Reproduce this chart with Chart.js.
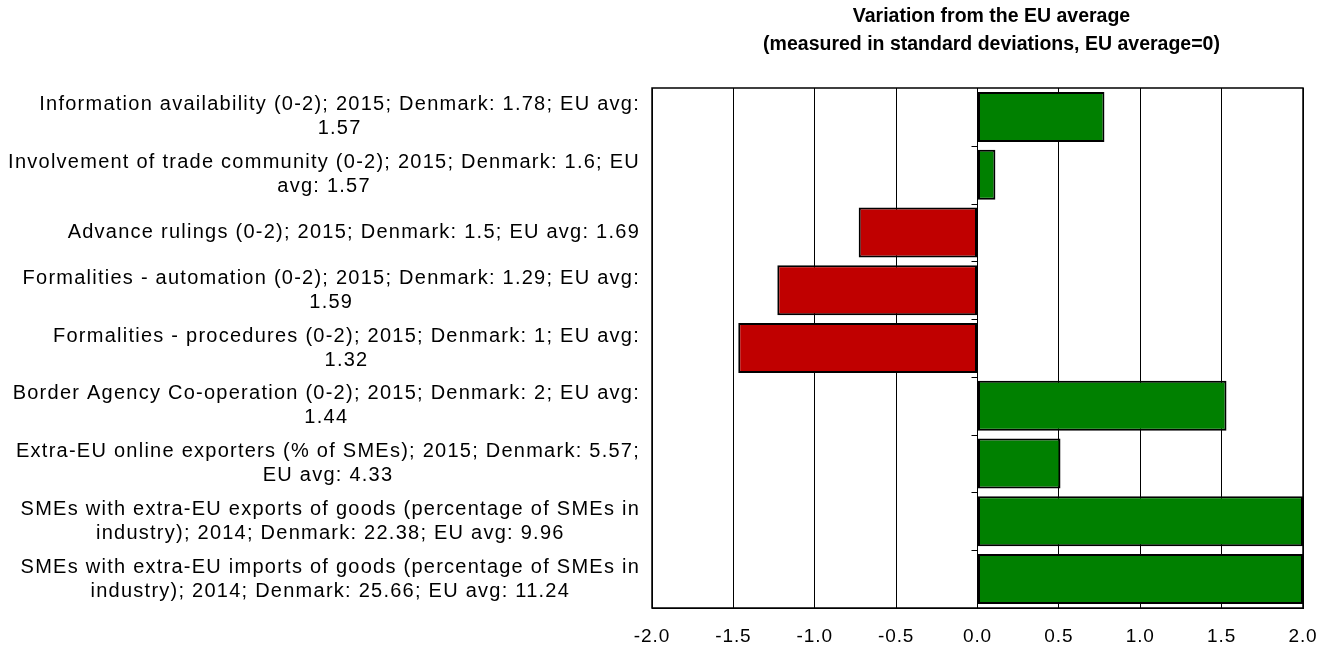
<!DOCTYPE html>
<html>
<head>
<meta charset="utf-8">
<script src="https://cdn.jsdelivr.net/npm/chart.js@4.4.1/dist/chart.umd.min.js"></script>
<style>
  html, body { margin: 0; padding: 0; background: #fff; }
  #wrap { width: 1330px; height: 647px; position: relative; }
</style>
</head>
<body>
<div id="wrap"><canvas id="c" width="1330" height="647"></canvas></div>
<script>
const titleLines = ["Variation from the EU average", "(measured in standard deviations, EU average=0)"];
const categories = [
  ["Information availability (0-2); 2015; Denmark: 1.78; EU avg:", "1.57"],
  ["Involvement of trade community (0-2); 2015; Denmark: 1.6; EU", "avg: 1.57"],
  ["Advance rulings (0-2); 2015; Denmark: 1.5; EU avg: 1.69"],
  ["Formalities - automation (0-2); 2015; Denmark: 1.29; EU avg:", "1.59"],
  ["Formalities - procedures (0-2); 2015; Denmark: 1; EU avg:", "1.32"],
  ["Border Agency Co-operation (0-2); 2015; Denmark: 2; EU avg:", "1.44"],
  ["Extra-EU online exporters (% of SMEs); 2015; Denmark: 5.57;", "EU avg: 4.33"],
  ["SMEs with extra-EU exports of goods (percentage of SMEs in", "industry); 2014; Denmark: 22.38; EU avg: 9.96"],
  ["SMEs with extra-EU imports of goods (percentage of SMEs in", "industry); 2014; Denmark: 25.66; EU avg: 11.24"]
];
const values = [0.78, 0.11, -0.73, -1.23, -1.47, 1.53, 0.51, 2.0, 2.0];
const xMin = -2, xMax = 2, xStep = 0.5;

const GREEN = '#008000', RED = '#C00000';
const FONT = "'Liberation Sans', Arial, sans-serif";
const LABEL_SIZE = 20;

const decor = {
  id: 'decor',
  beforeDraw(chart) {
    chart.ctx.letterSpacing = '0.9px';
  },
  afterDraw(chart) {
    const ctx = chart.ctx, a = chart.chartArea;
    const xs = chart.scales.x, ys = chart.scales.y;
    ctx.save();
    ctx.strokeStyle = '#000'; ctx.lineWidth = 1.5;
    ctx.strokeRect(a.left, a.top, a.right - a.left, a.bottom - a.top);
    const zx = xs.getPixelForValue(0);
    ctx.lineWidth = 1;
    for (let i = 0; i < categories.length - 1; i++) {
      const y = Math.round((ys.getPixelForValue(i) + ys.getPixelForValue(i + 1)) / 2) + 0.5;
      ctx.beginPath(); ctx.moveTo(zx - 6, y); ctx.lineTo(zx, y); ctx.stroke();
    }
    ctx.fillStyle = '#000';
    ctx.font = LABEL_SIZE + 'px ' + FONT;
    ctx.letterSpacing = '1.25px';
    ctx.textBaseline = 'middle';
    ctx.textAlign = 'center';
    const rightEdge = a.left - 12;
    const lh = 24;
    categories.forEach((lines, i) => {
      const cy = ys.getPixelForValue(i);
      const w = Math.max(...lines.map(l => ctx.measureText(l).width));
      const cx = rightEdge - w / 2;
      lines.forEach((l, k) => {
        ctx.fillText(l, cx, cy + (k - (lines.length - 1) / 2) * lh);
      });
    });
    ctx.letterSpacing = '0px';
    ctx.font = 'bold 19.5px ' + FONT;
    const tx = (a.left + a.right) / 2 + 14;
    ctx.fillText(titleLines[0], tx, 17);
    ctx.fillText(titleLines[1], tx, 45);
    ctx.restore();
  }
};

new Chart(document.getElementById('c'), {
  type: 'bar',
  data: {
    labels: categories,
    datasets: [{
      data: values,
      backgroundColor: values.map(v => v >= 0 ? GREEN : RED),
      borderColor: '#000',
      borderWidth: 2,
      borderSkipped: false,
      barPercentage: 0.865,
      categoryPercentage: 1.0
    }]
  },
  options: {
    responsive: false,
    animation: false,
    indexAxis: 'y',
    layout: { padding: { top: 88, right: 27, bottom: 0, left: 0 } },
    plugins: { legend: { display: false }, tooltip: { enabled: false }, title: { display: false } },
    scales: {
      x: {
        min: xMin, max: xMax,
        grid: { color: '#000', lineWidth: 1, drawTicks: false },
        border: { display: true, color: '#000', width: 1 },
        ticks: { stepSize: xStep, padding: 17, color: '#000', font: { family: FONT, size: 19 },
          callback: v => Number(v).toFixed(1) },
        afterFit: s => { s.height = 39; s.paddingLeft = 0; s.paddingRight = 0; }
      },
      y: {
        grid: { display: false, drawTicks: false },
        border: { display: false },
        ticks: { display: false },
        afterFit: s => { s.width = 652; s.paddingTop = 0; s.paddingBottom = 0; }
      }
    }
  },
  plugins: [decor]
});
</script>
</body>
</html>
